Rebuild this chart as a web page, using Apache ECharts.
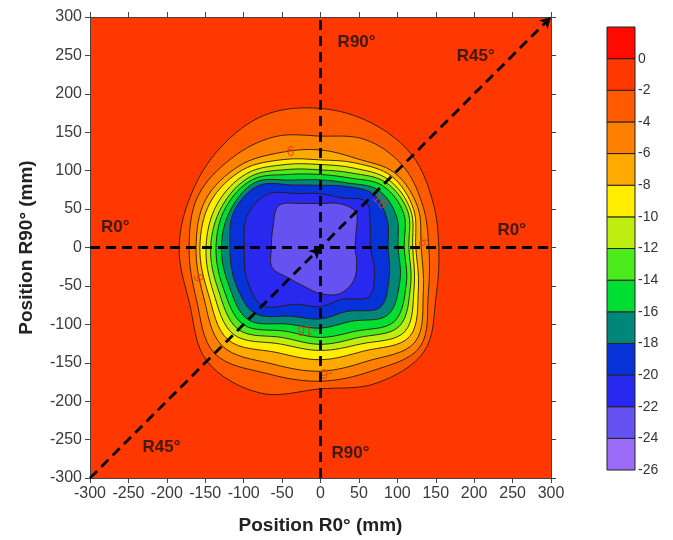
<!DOCTYPE html>
<html>
<head>
<meta charset="utf-8">
<script src="https://cdn.jsdelivr.net/npm/echarts@6/dist/echarts.min.js"></script>
<style>
html, body { margin: 0; padding: 0; background: #fff; }
#chart { width: 673px; height: 540px; }
</style>
</head>
<body>
<div id="chart"></div>
<script>
// directions (deg, counter-clockwise from R0° +x) where each contour was read
const angles = [0, 22.5, 45, 67.5, 90, 112.5, 135, 157.5, 180, 202.5, 225, 247.5, 270, 292.5, 315, 337.5];

// contour radius (mm) along each direction
const contour_2  = [154, 158, 169, 175, 181, 187, 184, 182, 184, 185, 209, 205, 184, 191, 191, 163];
const contour_4  = [141, 144, 151, 152, 145, 156, 164, 173, 171, 175, 195, 178, 174, 174, 183, 152];
const contour_6  = [131, 137, 137, 125, 127, 134, 150, 162, 162, 165, 181, 164, 161, 160, 174, 145];
const contour_8  = [124, 131, 131, 119, 114, 124, 143, 155, 157, 158, 170, 148, 146, 146, 164, 138];
const contour_10 = [120, 127, 125, 112, 108, 117, 136, 146, 149, 151, 160, 136, 134, 136, 155, 132];
const contour_12 = [115, 123, 120, 105, 101, 110, 130, 139, 143, 144, 151, 127, 126, 127, 145, 127];
const contour_14 = [109, 117, 114,  98,  95, 103, 125, 134, 136, 137, 142, 118, 117, 118, 136, 121];
const contour_16 = [101, 107, 106,  91,  88,  95, 120, 127, 129, 129, 133, 108, 105, 104, 124, 112];
const contour_18 = [ 88,  94,  98,  86,  81,  88, 114, 122, 118, 120, 121,  97,  93,  90, 110,  97];
const contour_20 = [ 65,  70,  84,  70,  70,  76,  98, 104,  99, 104, 107,  80,  77,  73,  90,  76];
const contour_22 = [ 45,  50,  65,  62,  57,  62,  77,  67,  64,  68,  57,  55,  60,  65,  61,  51];

const contourLevels = [-2, -4, -6, -8, -10, -12, -14, -16, -18, -20, -22];
const contourRadii = [contour_2, contour_4, contour_6, contour_8, contour_10, contour_12,
                      contour_14, contour_16, contour_18, contour_20, contour_22];

// colour scale, low to high
const bandEdges = [-26, -24, -22, -20, -18, -16, -14, -12, -10, -8, -6, -4, -2, 0, 2];
const bandColors = ['#9a6cf7', '#6652f0', '#2828ee', '#0632d8', '#00877a', '#00dd33', '#4ceb1c',
                    '#bdee10', '#ffee00', '#ffaa00', '#ff7f00', '#ff5a00', '#ff3800', '#ff0a00'];

// dashed reference lines
const lineR0 = [[-300, 0], [300, 0]];
const lineR90 = [[0, -300], [0, 300]];
const lineR45 = [[-300, -300], [0, 0], [300, 300]];

// direction labels
const dirNames = ['R90°', 'R45°', 'R0°', 'R0°', 'R45°', 'R90°'];
const dirPos = [[47, 267], [202, 249], [249, 22], [-267, 26], [-207, -260], [39, -268]];

// values written on the contours
const isoText = ['-6', '-16', '-6', '-6', '-16', '-6'];
const isoPos = [[-42, 124], [75, 62], [133, 9], [-157, -42], [-17, -107], [8, -163]];
const isoRotate = [0, -50, -80, 100, 180, 180];

function bandColor(low) {
    return bandColors[bandEdges.indexOf(low)];
}

const chart = echarts.init(document.getElementById('chart'));

const axisFont = { fontFamily: 'Arial, Liberation Sans, sans-serif', fontSize: 16, color: '#3a3a3a' };
const titleFont = { fontFamily: 'Arial, Liberation Sans, sans-serif', fontSize: 19, fontWeight: 'bold', color: '#222' };

function frameAxis(pos, show, extra) {
    return Object.assign({
        type: 'value',
        gridIndex: 0,
        position: pos,
        min: -300,
        max: 300,
        interval: 50,
        axisLine: { show: true, onZero: false, lineStyle: { color: '#444', width: 1 } },
        axisTick: { show: true, inside: false, length: 5, lineStyle: { color: '#444' } },
        axisLabel: Object.assign({ show: show, margin: 8 }, axisFont),
        splitLine: { show: false }
    }, extra || {});
}

chart.setOption({
    animation: false,
    backgroundColor: '#fff',
    grid: [
        { left: 90, top: 17, width: 461, height: 461, show: true, borderWidth: 0,
          backgroundColor: bandColor(-2) },
        { left: 607, top: 27, width: 28, height: 443 }
    ],
    xAxis: [
        frameAxis('bottom', true, {
            name: 'Position R0° (mm)', nameLocation: 'middle', nameGap: 38, nameTextStyle: titleFont
        }),
        frameAxis('top', false),
        { type: 'value', gridIndex: 1, min: 0, max: 1, show: false }
    ],
    yAxis: [
        frameAxis('left', true, {
            name: 'Position R90° (mm)', nameLocation: 'middle', nameGap: 54, nameTextStyle: titleFont
        }),
        frameAxis('right', false),
        {
            type: 'value', gridIndex: 1, position: 'right', min: -26, max: 2, interval: 2,
            axisLine: { show: false }, axisTick: { show: false }, splitLine: { show: false },
            axisLabel: {
                margin: 3, fontFamily: 'Arial, Liberation Sans, sans-serif', fontSize: 14, color: '#333',
                formatter: function (v) { return v === 2 ? '' : String(v); }
            }
        }
    ],
    series: [
        {
            type: 'custom',
            xAxisIndex: 0,
            yAxisIndex: 0,
            clip: true,
            silent: true,
            data: contourLevels.map(function (lv, i) { return [i, lv]; }),
            renderItem: function (params, api) {
                const i = api.value(0);
                const lv = api.value(1);
                const radii = contourRadii[i];
                const pts = angles.map(function (a, k) {
                    const t = a * Math.PI / 180;
                    return api.coord([radii[k] * Math.cos(t), radii[k] * Math.sin(t)]);
                });
                return {
                    type: 'polygon',
                    z2: i,
                    shape: { points: pts, smooth: 0.35 },
                    style: { fill: bandColor(lv - 2), stroke: '#2a1a10', lineWidth: 0.9 }
                };
            }
        },
        {
            type: 'scatter',
            xAxisIndex: 0,
            yAxisIndex: 0,
            symbolSize: 0,
            silent: true,
            data: isoText.map(function (t, i) {
                return { name: t, value: isoPos[i], label: { rotate: isoRotate[i] } };
            }),
            label: {
                show: true, position: 'inside', formatter: '{b}',
                fontFamily: 'Arial, Liberation Sans, sans-serif', fontSize: 14, color: '#e23a18'
            },
            z: 3
        },
        {
            type: 'line', xAxisIndex: 0, yAxisIndex: 0, data: lineR0, symbol: 'none', silent: true,
            lineStyle: { color: '#000', width: 2.8, type: [10, 6] }, z: 4
        },
        {
            type: 'line', xAxisIndex: 0, yAxisIndex: 0, data: lineR90, symbol: 'none', silent: true,
            lineStyle: { color: '#000', width: 2.8, type: [10, 6] }, z: 4
        },
        {
            type: 'line', xAxisIndex: 0, yAxisIndex: 0, silent: true, showAllSymbol: true,
            data: lineR45.map(function (p, i) {
                return i === 0 ? { value: p, symbol: 'none' }
                               : { value: p, symbol: 'arrow', symbolSize: [9, 11], symbolRotate: -45 };
            }),
            itemStyle: { color: '#000' },
            lineStyle: { color: '#000', width: 2.8, type: [10, 6] }, z: 4
        },
        {
            type: 'scatter',
            xAxisIndex: 0,
            yAxisIndex: 0,
            symbolSize: 0,
            silent: true,
            data: dirNames.map(function (n, i) { return { name: n, value: dirPos[i] }; }),
            label: {
                show: true, position: 'inside', formatter: '{b}',
                fontFamily: 'Arial, Liberation Sans, sans-serif', fontSize: 17, fontWeight: 'bold', color: '#111'
            },
            z: 5
        },
        {
            type: 'custom',
            xAxisIndex: 2,
            yAxisIndex: 2,
            silent: true,
            data: bandColors.map(function (c, i) { return [bandEdges[i], bandEdges[i + 1]]; }),
            renderItem: function (params, api) {
                const lo = api.value(0);
                const hi = api.value(1);
                const p0 = api.coord([0, hi]);
                const p1 = api.coord([1, lo]);
                return {
                    type: 'rect',
                    shape: { x: p0[0], y: p0[1], width: p1[0] - p0[0], height: p1[1] - p0[1] },
                    style: { fill: bandColor(lo), stroke: '#222', lineWidth: 1 }
                };
            }
        }
    ]
});
</script>
</body>
</html>
